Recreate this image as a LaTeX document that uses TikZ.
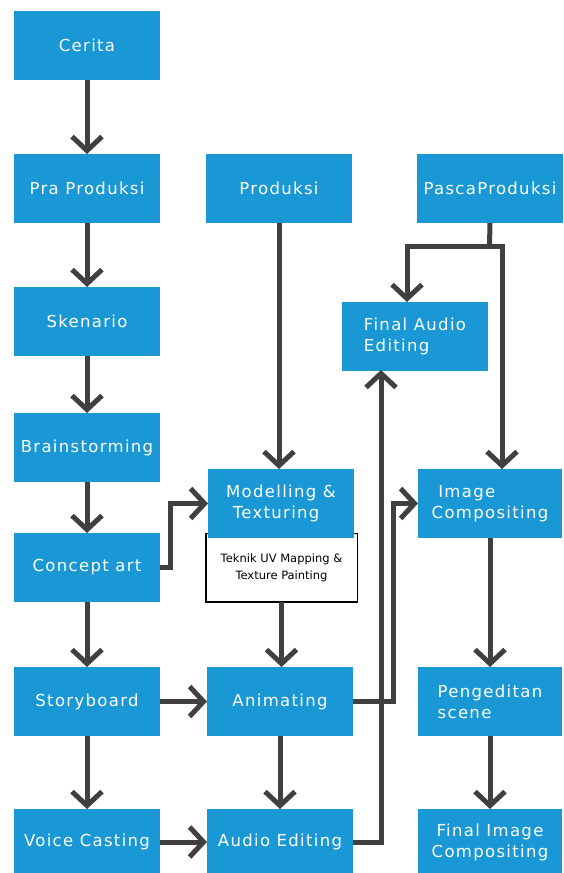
\documentclass[tikz,border=0pt]{standalone}
\usepackage{fontspec}
\setmainfont{DejaVu Sans}
\newfontfamily\boxfont{DejaVu Sans}[LetterSpace=8]
\usetikzlibrary{arrows.meta}
\definecolor{boxblue}{RGB}{26,152,214}
\definecolor{arrgray}{RGB}{64,64,64}
\begin{document}
\begin{tikzpicture}[x=1pt,y=-1pt,
  box/.style={fill=boxblue, text=white, font=\boxfont\fontsize{16.5}{21}\selectfont,
    inner sep=0pt, outer sep=0pt, anchor=north west, align=left},
  wide/.style={minimum width=146pt, minimum height=69pt},
  note/.style={fill=white, draw=black, line width=1pt, text=black,
    font=\fontsize{11.5}{17}\selectfont, inner sep=0pt, outer sep=0pt,
    anchor=north west, minimum width=151pt, minimum height=69pt, align=center},
  conn/.style={draw=arrgray, line width=5pt, line join=miter},
  arr/.style={conn, -{Straight Barb[length=14pt,width=30pt]}}
]
\useasboundingbox (0,0) rectangle (564,873);
\fill[white] (0,0) rectangle (564,873);

% column 1
\node[box,wide] (cerita)  at (14,11)  {Cerita};
\node[box,wide] (pra)     at (14,154) {Pra Produksi};
\node[box,wide] (sken)    at (14,287) {Skenario};
\node[box,wide] (brain)   at (14,413) {Brainstorming};
\node[box,wide] (concept) at (14,533) {Concept art};
\node[box,wide] (story)   at (14,667) {Storyboard};
\node[box,wide,minimum height=66pt] (voice) at (14,809) {Voice Casting};

% column 2
\node[box,wide] (prod)  at (206,154) {Produksi};
\node[note] (teknik) at (206,533) {\rule{0pt}{9pt}Teknik UV Mapping \&\\Texture Painting};
\draw[black, line width=2.5pt] (teknik.north west) -- (teknik.south west) -- (teknik.south east);
\node[box,wide] (model) at (208,469) {Modelling \&\\\ Texturing};
\node[box,wide] (anim)  at (207,667) {Animating};
\node[box,wide,minimum height=66pt] (audio) at (207,809) {Audio Editing};

% column 3
\node[box,wide] (pasca)  at (417,154) {PascaProduksi};
\node[box,wide] (faudio) at (342,302) {Final Audio\\Editing};
\node[box,wide,minimum width=144pt] (image)  at (418,469) {\ Image\\Compositing};
\node[box,wide,minimum width=144pt] (peng)   at (418,667) {Pengeditan\\scene};
\node[box,wide,minimum width=144pt,minimum height=66pt,align=center] (fimage) at (418,809) {Final Image\\Compositing};

% helper coordinates
\coordinate (pj)    at (489.5,246);
\coordinate (faTop) at (407,302);
\coordinate (imTop) at (502,469);
\coordinate (faBot) at (381,370);

% column 1 arrows
\draw[arr] (cerita) -- (pra);
\draw[arr] (pra) -- (sken);
\draw[arr] (sken) -- (brain);
\draw[arr] (brain) -- (concept);
\draw[arr] (concept) -- (story);
\draw[arr] (story) -- (voice);

% column 2 arrows
\draw[arr] (prod.south) -- (prod.south |- model.north);
\draw[arr] (concept.east) -- ++(10,0) |- (model.west);
\draw[arr] (teknik.south) -- (teknik.south |- anim.north);
\draw[arr] (story.east) -- (anim.west);
\draw[arr] (anim.south) -- (anim.south |- audio.north);
\draw[arr] (voice.east) -- (audio.west);

% to post production
\draw[arr] (audio.east) -| (faBot);
\draw[arr] (anim.east) -- ++(40,0) |- (image.west);
\draw[conn] (pasca.south) -- (pj);
\draw[arr] (pj) -| (faTop);
\draw[arr] (pj) -| (imTop);
\draw[arr] (image) -- (peng);
\draw[arr] (peng) -- (fimage);
\end{tikzpicture}
\end{document}
